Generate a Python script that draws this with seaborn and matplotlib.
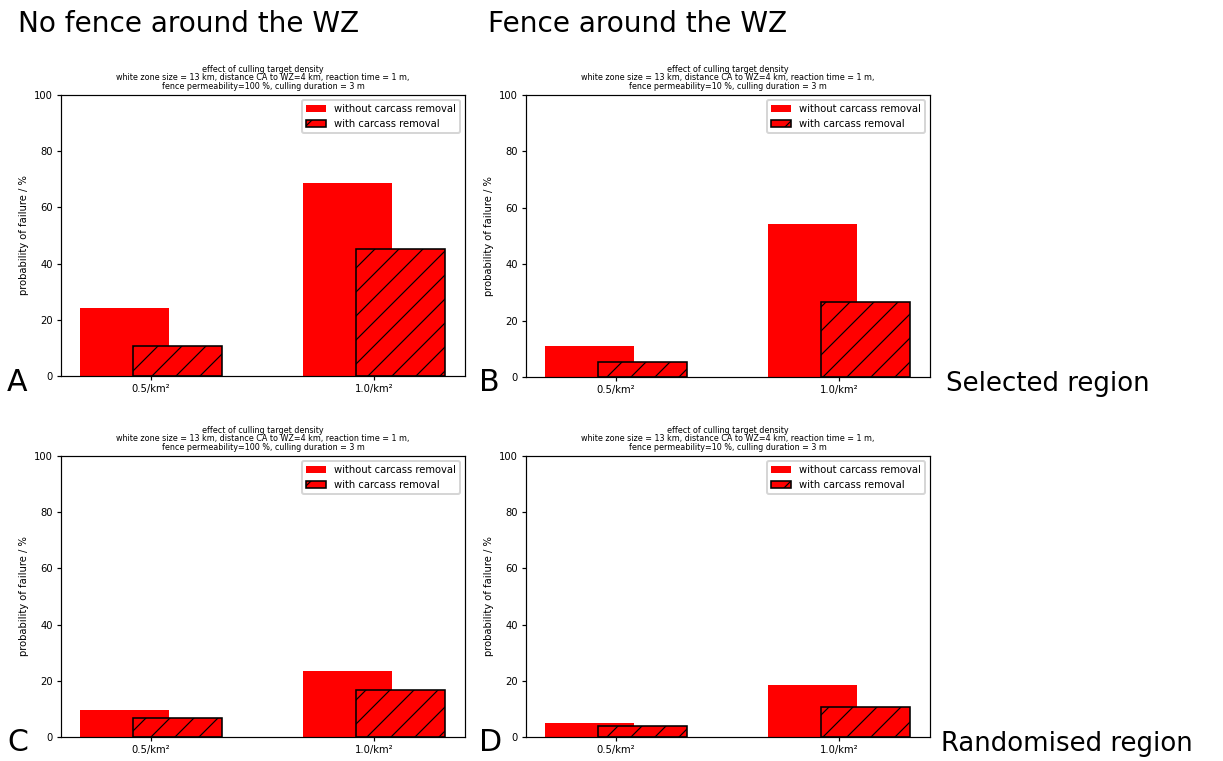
import matplotlib
matplotlib.use("Agg")
import matplotlib.pyplot as plt
import pandas as pd
import seaborn as sns

# Data
densities = ["0.5/km²", "1.0/km²"]
removal = ["without carcass removal", "with carcass removal"]

a_without = [24.1, 68.8]
a_with = [10.7, 45.2]
b_without = [11.0, 54.4]
b_with = [5.3, 26.7]
c_without = [9.7, 23.4]
c_with = [6.8, 16.9]
d_without = [5.1, 18.4]
d_with = [3.9, 10.8]

permeability = ["100 %", "10 %", "100 %", "10 %"]
panel_letters = ["A", "B", "C", "D"]

W, H = 1223, 761
DPI = 144
plt.rcParams["font.size"] = 5
plt.rcParams["hatch.linewidth"] = 0.6
plt.rcParams["axes.linewidth"] = 0.6
plt.rcParams["xtick.major.size"] = 2
plt.rcParams["ytick.major.size"] = 2
plt.rcParams["xtick.major.pad"] = 2
plt.rcParams["ytick.major.pad"] = 2
plt.rcParams["xtick.major.width"] = 0.6
plt.rcParams["ytick.major.width"] = 0.6


def px_axes(fig, left, top, right, bottom):
    return fig.add_axes([left / W, 1 - bottom / H, (right - left) / W, (bottom - top) / H])


def draw_panel(ax, without, with_, perm):
    df = pd.DataFrame({
        "density": densities * 2,
        "removal": [removal[0]] * 2 + [removal[1]] * 2,
        "value": list(without) + list(with_),
    })
    # overlapping bars: dodge offsets of +-0.12, each bar 0.4 wide
    sns.barplot(data=df, x="density", y="value", hue="removal", hue_order=removal,
                palette=["red", "red"], saturation=1, width=0.48, gap=-2 / 3,
                errorbar=None, legend=False, ax=ax)
    for bar in ax.containers[0]:
        bar.set_edgecolor("red")
        bar.set_linewidth(0)
    for bar in ax.containers[1]:
        bar.set_edgecolor("black")
        bar.set_linewidth(0.8)
        bar.set_hatch("//")
    ax.set_xlim(-0.404, 1.408)
    ax.set_ylim(0, 100)
    ax.set_xlabel("")
    ax.set_ylabel("probability of failure / %", labelpad=2.5)
    ax.set_title("effect of culling target density\n"
                 "white zone size = 13 km, distance CA to WZ=4 km, reaction time = 1 m,\n"
                 "fence permeability=" + perm + ", culling duration = 3 m",
                 fontsize=4.0, pad=3, linespacing=0.95)
    ax.legend(ax.containers, removal, loc="upper right")


fig = plt.figure(figsize=(W / DPI, H / DPI), dpi=DPI)

boxes = [(61, 95, 465, 376), (526, 95, 930, 377), (61, 456, 465, 737), (526, 456, 930, 737)]
series = [(a_without, a_with), (b_without, b_with), (c_without, c_with), (d_without, d_with)]
for box, (wo, wi), perm in zip(boxes, series, permeability):
    ax = px_axes(fig, *box)
    draw_panel(ax, wo, wi, perm)

big = dict(fontsize=14, family="DejaVu Sans", va="baseline", ha="left")
fig.text(18 / W, 1 - 32 / H, "No fence around the WZ", **big)
fig.text(488 / W, 1 - 32 / H, "Fence around the WZ", **big)
fig.text(946 / W, 1 - 391 / H, "Selected region", **{**big, "fontsize": 13})
fig.text(941 / W, 1 - 751 / H, "Randomised region", **{**big, "fontsize": 13})

letter_pos = [(7, 391), (479, 391), (7, 751), (479, 751)]
for letter, (x, y) in zip(panel_letters, letter_pos):
    fig.text(x / W, 1 - y / H, letter, **{**big, "fontsize": 15})

fig.savefig("out.png", dpi=DPI)
